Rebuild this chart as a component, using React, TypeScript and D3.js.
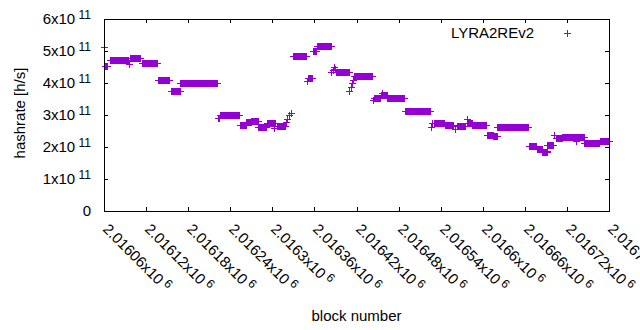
import * as d3 from "d3";

// block runs with a constant hashrate (first block, last block, h/s)
const runStart = [
  2016060, 2016062, 2016069, 2016095, 2016097, 2016114, 2016137, 2016155, 2016169, 2016222,
  2016224, 2016226, 2016254, 2016263, 2016270, 2016280, 2016293, 2016302, 2016306, 2016319,
  2016321, 2016324, 2016327, 2016329, 2016350, 2016351, 2016358, 2016363, 2016384, 2016386,
  2016388, 2016389, 2016391, 2016410, 2016412, 2016414, 2016415, 2016416, 2016443, 2016445,
  2016455, 2016457, 2016464, 2016489, 2016526, 2016528, 2016531, 2016546, 2016560, 2016564,
  2016577, 2016578, 2016585, 2016606, 2016607, 2016615, 2016621, 2016666, 2016667, 2016677,
  2016685, 2016691, 2016692, 2016702, 2016704, 2016713, 2016733, 2016745, 2016767,
];
const runEnd = [
  2016060, 2016064, 2016094, 2016095, 2016112, 2016136, 2016153, 2016168, 2016221, 2016222,
  2016224, 2016253, 2016262, 2016269, 2016279, 2016291, 2016304, 2016302, 2016318, 2016319,
  2016321, 2016324, 2016327, 2016348, 2016350, 2016357, 2016362, 2016383, 2016384, 2016386,
  2016388, 2016389, 2016409, 2016410, 2016412, 2016414, 2016415, 2016442, 2016443, 2016454,
  2016463, 2016457, 2016488, 2016525, 2016526, 2016528, 2016545, 2016558, 2016560, 2016575,
  2016577, 2016584, 2016605, 2016606, 2016614, 2016620, 2016665, 2016666, 2016676, 2016684,
  2016691, 2016691, 2016700, 2016702, 2016713, 2016744, 2016733, 2016766, 2016780,
];
const runRate = [
  5.13e11, 4.52e11, 4.71e11, 4.6e11, 4.77e11, 4.62e11, 4.08e11, 3.74e11, 3.99e11, 2.9e11,
  2.92e11, 2.99e11, 2.68e11, 2.78e11, 2.82e11, 2.63e11, 2.76e11, 2.6e11, 2.66e11, 2.78e11,
  2.86e11, 2.99e11, 3.07e11, 4.83e11, 4.05e11, 4.15e11, 5.0e11, 5.15e11, 4.35e11, 4.4e11,
  4.5e11, 4.45e11, 4.33e11, 3.76e11, 3.88e11, 3.99e11, 4.1e11, 4.21e11, 3.48e11, 3.52e11,
  3.63e11, 3.68e11, 3.52e11, 3.11e11, 2.63e11, 2.74e11, 2.74e11, 2.7e11, 2.57e11, 2.66e11,
  2.86e11, 2.76e11, 2.68e11, 2.38e11, 2.37e11, 2.33e11, 2.62e11, 2.04e11, 2.02e11, 1.93e11,
  1.85e11, 1.89e11, 2.05e11, 2.36e11, 2.27e11, 2.3e11, 2.18e11, 2.14e11, 2.2e11,
];

const xTicks = [
  2016060, 2016120, 2016180, 2016240, 2016300, 2016360, 2016420, 2016480, 2016540, 2016600,
  2016660, 2016720, 2016780,
];
const yTicks = [0, 1e11, 2e11, 3e11, 4e11, 5e11, 6e11];
const seriesName = "LYRA2REv2";

const W = 640;
const H = 330;
const margin = { top: 19, right: 31, bottom: 119, left: 104 };
const color = "#9400d3";
const font = "'Liberation Sans', Arial, sans-serif";

function sciLabel(v: number, exp: number) {
  return d3.format(".6~g")(v / Math.pow(10, exp));
}

export default function App() {
  const x = d3.scaleLinear().domain([2016060, 2016780]).range([margin.left, W - margin.right]);
  const y = d3.scaleLinear().domain([0, 6e11]).range([H - margin.bottom, margin.top]);
  const [x0, x1] = x.range().map(Math.round);
  const [yb, yt] = y.range().map(Math.round);
  const arm = 3;

  return (
    <svg width={W} height={H} style={{ position: "absolute", left: 0, top: 0 }} fontFamily={font}>
      <rect width={W} height={H} fill="#fff" />

      {/* points: a run of "+" markers reads as a solid band */}
      <g fill={color}>
        {runStart.map((s, i) => {
          const xs = Math.round(x(s));
          const xe = Math.round(x(runEnd[i]));
          const yc = Math.round(y(runRate[i]));
          return (
            <g key={i}>
              <rect x={xs} y={yc - arm} width={xe - xs + 1} height={arm * 2 + 1} />
              <rect x={xs - arm} y={yc} width={xe - xs + arm * 2 + 1} height={1} />
            </g>
          );
        })}
      </g>

      <g stroke="#000" strokeWidth={1} fill="none" shapeRendering="crispEdges">
        <rect x={x0 + 0.5} y={yt + 0.5} width={x1 - x0} height={yb - yt} />
        {xTicks.map((t) => {
          const px = Math.round(x(t)) + 0.5;
          return (
            <g key={t}>
              <line x1={px} x2={px} y1={yb} y2={yb - 4} />
              <line x1={px} x2={px} y1={yt} y2={yt + 4} />
            </g>
          );
        })}
        {yTicks.map((t) => {
          const py = Math.round(y(t)) + 0.5;
          return (
            <g key={t}>
              <line x1={x0} x2={x0 + 4} y1={py} y2={py} />
              <line x1={x1} x2={x1 - 4} y1={py} y2={py} />
            </g>
          );
        })}
      </g>

      <g fontSize={15} fill="#000">
        {yTicks.map((t) => (
          <text key={t} x={x0 - 13} y={Math.round(y(t)) + 5} textAnchor="end">
            {t === 0 ? "0" : `${sciLabel(t, 11)}x10`}
            {t !== 0 && (
              <tspan fontSize={12} dy={-5}>
                {" 11"}
              </tspan>
            )}
          </text>
        ))}
        {xTicks.map((t) => (
          <text key={t} transform={`translate(${Math.round(x(t)) - 2},230) rotate(45)`}>
            {`${sciLabel(t, 6)}x10`}
            <tspan fontSize={12} dy={-5}>
              {" 6"}
            </tspan>
          </text>
        ))}
        <text x={(x0 + x1) / 2} y={321} textAnchor="middle">
          block number
        </text>
        <text transform={`translate(25,${(yb + yt) / 2 - 2}) rotate(-90)`} textAnchor="middle">
          hashrate [h/s]
        </text>
        <text x={534} y={37.5} textAnchor="end">
          {seriesName}
        </text>
      </g>
      <g fill={color}>
        <rect x={567} y={33 - arm} width={1} height={arm * 2 + 1} />
        <rect x={567 - arm} y={33} width={arm * 2 + 1} height={1} />
      </g>
    </svg>
  );
}
